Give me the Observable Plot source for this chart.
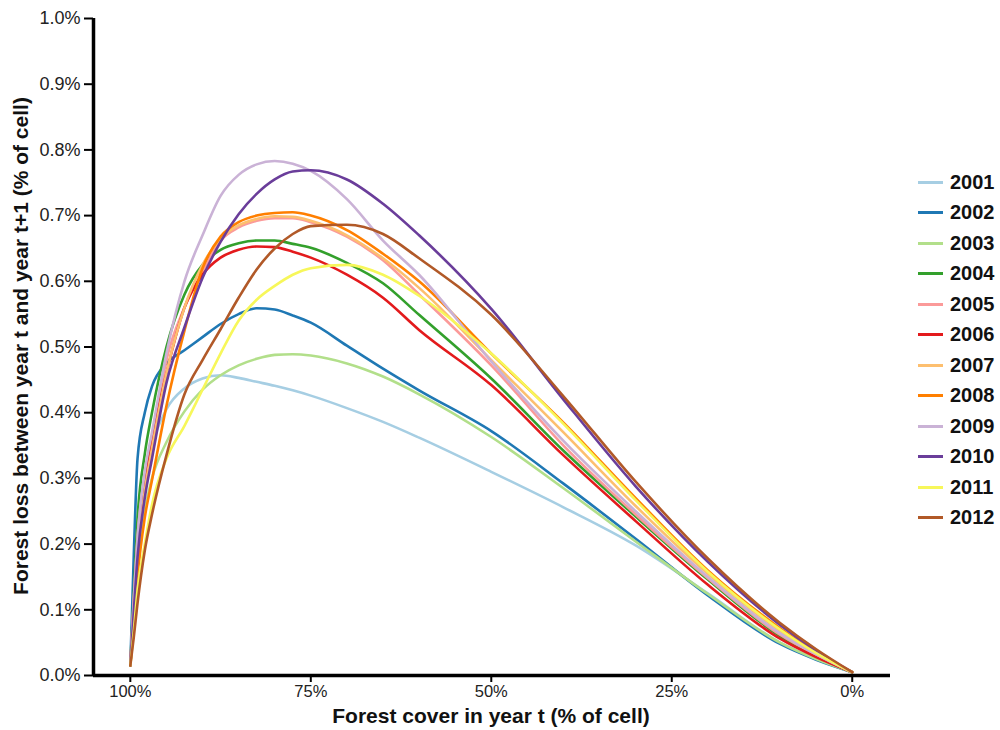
<!DOCTYPE html>
<html>
<head>
<meta charset="utf-8">
<script src="https://cdn.jsdelivr.net/npm/d3@7"></script>
<script src="https://cdn.jsdelivr.net/npm/@observablehq/plot@0.6"></script>
<style>
  html, body { margin: 0; padding: 0; background: #fff; }
  #wrap { position: relative; width: 1000px; height: 730px; font-family: "Liberation Sans", Arial, sans-serif; }
  #chart { position: absolute; left: 0; top: 0; }
  .ytitle { position: absolute; left: 21px; top: 346px; transform: translate(-50%, -50%) rotate(-90deg); white-space: nowrap; font-weight: bold; font-size: 21px; color: #111; }
  .xtitle { position: absolute; left: 491px; top: 716px; transform: translate(-50%, -50%); white-space: nowrap; font-weight: bold; font-size: 21px; color: #111; }
  #legend { position: absolute; left: 918px; top: 0; }
  .lg { position: absolute; left: 0; width: 90px; height: 24px; transform: translateY(-50%); display: flex; align-items: center; }
  .lg .sw { width: 25px; height: 3px; margin-right: 7px; }
  .lg .tx { font-weight: bold; font-size: 20px; color: #111; }
</style>
</head>
<body>
<div id="wrap">
  <div id="chart"></div>
  <div class="ytitle">Forest loss between year t and year t+1 (% of cell)</div>
  <div class="xtitle">Forest cover in year t (% of cell)</div>
  <div id="legend"></div>
</div>
<script>
// Forest cover in year t (%), left (100%) to right (0%)
const covers = [100, 99.5, 99, 98, 97, 95, 92.5, 90, 87.5, 85, 82.5, 80, 77.5, 75, 70, 65, 60, 50, 40, 30, 20, 10, 5, 0];

// Forest loss between year t and t+1 (% of cell), one array per year
const y2001 = [0.015,0.12,0.20,0.30,0.35,0.405,0.437,0.452,0.457,0.453,0.447,0.441,0.434,0.426,0.407,0.386,0.362,0.31,0.256,0.198,0.125,0.05,0.025,0.005];
const y2002 = [0.015,0.19,0.33,0.40,0.44,0.475,0.495,0.515,0.535,0.55,0.559,0.557,0.548,0.537,0.502,0.467,0.434,0.372,0.292,0.208,0.122,0.048,0.024,0.005];
const y2003 = [0.015,0.10,0.17,0.25,0.30,0.355,0.402,0.435,0.457,0.472,0.482,0.488,0.489,0.487,0.475,0.455,0.428,0.363,0.285,0.204,0.124,0.05,0.025,0.005];
const y2004 = [0.015,0.13,0.24,0.337,0.40,0.50,0.58,0.625,0.648,0.658,0.662,0.662,0.657,0.651,0.628,0.597,0.549,0.452,0.342,0.242,0.146,0.06,0.03,0.005];
const y2005 = [0.015,0.12,0.21,0.305,0.358,0.48,0.56,0.615,0.662,0.682,0.692,0.696,0.696,0.69,0.668,0.632,0.58,0.472,0.35,0.245,0.148,0.062,0.031,0.005];
const y2006 = [0.015,0.11,0.20,0.30,0.36,0.46,0.56,0.61,0.636,0.648,0.653,0.652,0.645,0.636,0.61,0.575,0.526,0.442,0.335,0.235,0.138,0.056,0.028,0.005];
const y2007 = [0.015,0.10,0.18,0.28,0.345,0.46,0.56,0.625,0.665,0.685,0.695,0.699,0.698,0.692,0.67,0.635,0.59,0.48,0.37,0.258,0.155,0.068,0.033,0.005];
const y2008 = [0.015,0.08,0.15,0.24,0.297,0.41,0.525,0.62,0.668,0.69,0.70,0.704,0.705,0.70,0.678,0.642,0.60,0.49,0.385,0.27,0.16,0.072,0.035,0.005];
const y2009 = [0.015,0.12,0.21,0.31,0.37,0.49,0.60,0.67,0.73,0.762,0.778,0.783,0.779,0.768,0.725,0.662,0.61,0.478,0.357,0.25,0.15,0.064,0.032,0.005];
const y2010 = [0.015,0.10,0.18,0.27,0.33,0.445,0.53,0.605,0.66,0.702,0.733,0.755,0.767,0.769,0.755,0.718,0.67,0.558,0.42,0.288,0.173,0.077,0.038,0.005];
const y2011 = [0.015,0.07,0.13,0.20,0.26,0.33,0.38,0.435,0.49,0.54,0.572,0.593,0.61,0.62,0.625,0.61,0.578,0.49,0.383,0.267,0.158,0.07,0.034,0.005];
const y2012 = [0.015,0.06,0.11,0.19,0.245,0.335,0.428,0.48,0.527,0.575,0.618,0.65,0.672,0.684,0.686,0.672,0.635,0.549,0.425,0.295,0.178,0.08,0.04,0.005];

const years = ["2001","2002","2003","2004","2005","2006","2007","2008","2009","2010","2011","2012"];
const colors = ["#a6cee3","#1f78b4","#b2df8a","#33a02c","#fb9a99","#e31a1c","#fdbf6f","#ff7f00","#cab2d6","#6a3d9a","#f7f75a","#b15928"];
const xTicks = [100, 75, 50, 25, 0];
const yTicks = [0, 0.1, 0.2, 0.3, 0.4, 0.5, 0.6, 0.7, 0.8, 0.9, 1.0];
const xDomain = [105.1, -5.3];
const yDomain = [0, 1.0];

const series = [y2001,y2002,y2003,y2004,y2005,y2006,y2007,y2008,y2009,y2010,y2011,y2012];
const data = [];
series.forEach((vals, i) => vals.forEach((v, j) => data.push({year: years[i], cover: covers[j], value: v})));

const chart = Plot.plot({
  width: 900,
  height: 730,
  marginLeft: 93,
  marginRight: 10,
  marginTop: 18,
  marginBottom: 55,
  style: {fontFamily: "'Liberation Sans', Arial, sans-serif", fontSize: "16px", color: "#222", background: "white"},
  x: {domain: xDomain},
  y: {domain: yDomain},
  color: {domain: years, range: colors},
  marks: [
    Plot.axisX({ticks: xTicks, tickFormat: d => d + "%", tickSize: 7, tickPadding: 3, stroke: "#000", strokeWidth: 2, fontSize: 16.5, label: null}),
    Plot.axisY({ticks: yTicks, tickFormat: d => d.toFixed(1) + "%", tickSize: 9, tickPadding: 4, stroke: "#000", strokeWidth: 2, fontSize: 18, label: null}),
    Plot.line(data, {x: "cover", y: "value", z: "year", stroke: "year", curve: "monotone-x", strokeWidth: 2.6}),
    Plot.ruleX([xDomain[0]], {y1: yDomain[0], y2: yDomain[1], stroke: "#000", strokeWidth: 3.5}),
    Plot.ruleY([yDomain[0]], {x1: xDomain[0], x2: xDomain[1], stroke: "#000", strokeWidth: 3.5})
  ]
});
document.getElementById("chart").appendChild(chart);

const legend = document.getElementById("legend");
years.forEach((yr, i) => {
  const row = document.createElement("div");
  row.className = "lg";
  row.style.top = (182 + i * 30.5) + "px";
  row.innerHTML = `<span class="sw" style="background:${colors[i]}"></span><span class="tx">${yr}</span>`;
  legend.appendChild(row);
});
</script>
</body>
</html>
